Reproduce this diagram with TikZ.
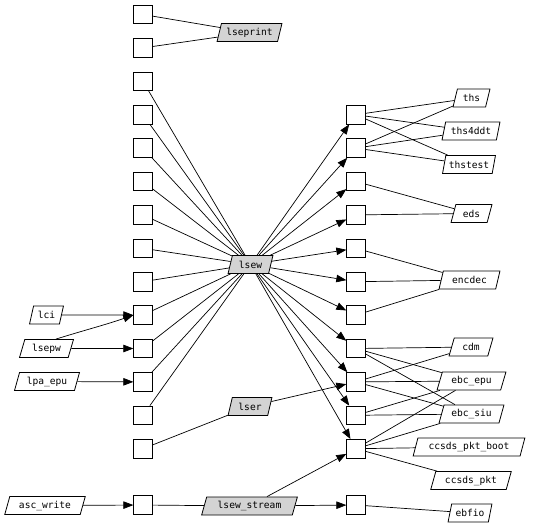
\documentclass[tikz,border=0pt]{standalone}
\usepackage{fontspec}
\newfontfamily\gvfont{DejaVu Sans Mono}
\usetikzlibrary{shapes.geometric,arrows.meta}
\definecolor{gvgray}{HTML}{D3D3D3}
\begin{document}
\begin{tikzpicture}[x=1pt,y=-1pt,
  box/.style={draw,fill=white,minimum width=18.5pt,minimum height=18.5pt,inner sep=0pt,line width=0.8pt},
  lab/.style={draw,trapezium,trapezium left angle=68,trapezium right angle=112,trapezium stretches=true,
     minimum height=18pt,inner xsep=1pt,inner ysep=0pt,line width=0.8pt,fill=white,
     font=\gvfont\fontsize{9.6}{11}\selectfont,minimum width=#1},
  glab/.style={lab=#1,fill=gvgray},
  ln/.style={line width=0.7pt},
  arr/.style={line width=0.7pt,-{Triangle[length=10pt,width=7.5pt]}}]
\useasboundingbox (0,0) rectangle (533,528);
% boxes
\foreach \k in {1,...,14} \node[box] (L\k) at (143,{14.5+33.4*(\k-1)}) {};
\node[box] (L15) at (143,505) {};
\foreach \k in {4,...,14} \node[box] (R\k) at (356,{14.5+33.4*(\k-1)}) {};
\node[box] (R15) at (356,505) {};
% gray labels
\node[glab=65pt] (lseprint) at (249.5,32.5) {lseprint};
\node[glab=45pt] (lsew) at (250.5,264.5) {lsew};
\node[glab=44pt] (lser) at (250,406.5) {lser};
\node[glab=96pt] (lsewstream) at (249.5,506) {lsew\_stream};
% left labels
\node[lab=34pt] (lci) at (46.5,315) {lci};
\node[lab=54pt] (lsepw) at (46.5,348.5) {lsepw};
\node[lab=65pt] (lpaepu) at (47,381.5) {lpa\_epu};
\node[lab=81pt] (ascwrite) at (45,505.5) {asc\_write};
% right labels
\node[lab=37pt] (ths) at (471.5,98) {ths};
\node[lab=58pt] (ths4ddt) at (471,131) {ths4ddt};
\node[lab=53pt] (thstest) at (469,164.5) {thstest};
\node[lab=41pt] (eds) at (471.5,213.5) {eds};
\node[lab=61pt] (encdec) at (469.5,280) {encdec};
\node[lab=44pt] (cdm) at (471,347) {cdm};
\node[lab=69pt] (ebcepu) at (471.5,381) {ebc\_epu};
\node[lab=65pt] (ebcsiu) at (471.5,414) {ebc\_siu};
\node[lab=112pt] (ccsdsboot) at (469,447) {ccsds\_pkt\_boot};
\node[lab=81pt] (ccsds) at (471,480.5) {ccsds\_pkt};
\node[lab=44pt] (ebfio) at (470,513) {ebfio};
% edges left boxes -> gray
\draw[ln] (L1) -- (lseprint);
\draw[ln] (L2) -- (lseprint);
\foreach \k in {3,...,13} \draw[ln] (L\k) -- (lsew);
\draw[ln] (L14) -- (lser);
\draw[ln] (L15) -- (lsewstream);
% arrows to right boxes
\foreach \k in {4,...,14} \draw[arr] (lsew) -- (R\k);
\draw[arr] (lser) -- (R12);
\draw[arr] (lsewstream) -- (R14);
\draw[arr] (lsewstream) -- (R15);
% left arrows
\draw[arr] (lci) -- (L10);
\draw[arr] (lsepw.north east) .. controls (85,330) and (105,325) .. (L10.west);
\draw[arr] (lsepw) -- (L11);
\draw[arr] (lpaepu) -- (L12);
\draw[arr] (ascwrite) -- (L15);
% right boxes -> labels
\foreach \t in {ths,ths4ddt,thstest} {\draw[ln] (R4) -- (\t); \draw[ln] (R5) -- (\t);}
\draw[ln] (R6) -- (eds);
\draw[ln] (R7) -- (eds);
\foreach \k in {8,9,10} \draw[ln] (R\k) -- (encdec);
\foreach \t in {cdm,ebcepu,ebcsiu} {\draw[ln] (R11) -- (\t); \draw[ln] (R12) -- (\t);}
\draw[ln] (R13) -- (ebcepu);
\draw[ln] (R13) -- (ebcsiu);
\foreach \t in {ebcepu,ebcsiu,ccsdsboot,ccsds} \draw[ln] (R14) -- (\t);
\draw[ln] (R15) -- (ebfio);
\end{tikzpicture}
\end{document}
